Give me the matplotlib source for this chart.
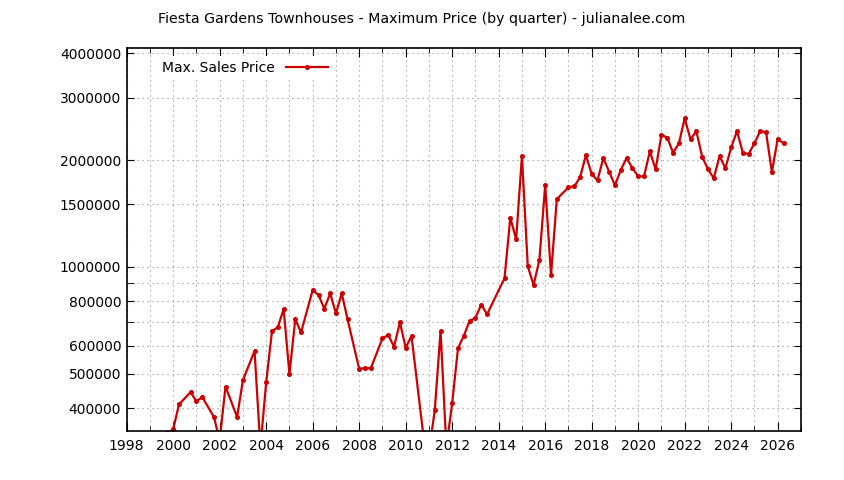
import matplotlib
matplotlib.use('Agg')
import matplotlib.pyplot as plt
from matplotlib.ticker import FixedLocator, NullFormatter, FuncFormatter

# quarter (decimal year) and max sale price
quarters = [1999.75, 2000.0, 2000.25, 2000.75, 2001.0, 2001.25, 2001.75,
            2002.0, 2002.25, 2002.75, 2003.0, 2003.5, 2003.75,
            2004.0, 2004.25, 2004.5, 2004.75, 2005.0, 2005.25, 2005.5,
            2006.0, 2006.25, 2006.5, 2006.75, 2007.0, 2007.25, 2007.5,
            2008.0, 2008.25, 2008.5, 2009.0, 2009.25, 2009.5, 2009.75,
            2010.0, 2010.25, 2010.75, 2011.0, 2011.25, 2011.5, 2011.75,
            2012.0, 2012.25, 2012.5, 2012.75, 2013.0, 2013.25, 2013.5,
            2014.25, 2014.5, 2014.75, 2015.0, 2015.25, 2015.5, 2015.75,
            2016.0, 2016.25, 2016.5, 2017.0, 2017.25, 2017.5, 2017.75,
            2018.0, 2018.25, 2018.5, 2018.75, 2019.0, 2019.25, 2019.5, 2019.75,
            2020.0, 2020.25, 2020.5, 2020.75, 2021.0, 2021.25, 2021.5, 2021.75,
            2022.0, 2022.25, 2022.5, 2022.75, 2023.0, 2023.25, 2023.5, 2023.75,
            2024.0, 2024.25, 2024.5, 2024.75, 2025.0, 2025.25, 2025.5, 2025.75,
            2026.0, 2026.25]
max_price = [340000, 349000, 410000, 444000, 418000, 430000, 378000,
             325000, 460000, 378000, 480000, 580000, 310000,
             473000, 660000, 676000, 761000, 500000, 712000, 654000,
             861000, 833000, 763000, 842000, 740000, 842000, 712000,
             516000, 519000, 518000, 629000, 643000, 596000, 698000,
             592000, 639000, 340000, 300000, 395000, 660000, 310000,
             414000, 590000, 640000, 704000, 719000, 783000, 735000,
             929000, 1376000, 1196000, 2053000, 1006000, 889000, 1046000,
             1701000, 949000, 1553000, 1676000, 1687000, 1788000, 2063000,
             1826000, 1754000, 2027000, 1854000, 1698000, 1875000, 2027000, 1899000,
             1800000, 1798000, 2117000, 1883000, 2357000, 2312000, 2098000, 2229000,
             2621000, 2288000, 2414000, 2044000, 1885000, 1777000, 2053000, 1896000,
             2173000, 2414000, 2098000, 2080000, 2233000, 2414000, 2394000, 1851000,
             2293000, 2229000]

ytick_vals = [400000, 500000, 600000, 800000, 1000000, 1500000, 2000000, 3000000, 4000000]
ytick_minor = [700000, 900000]
xtick_years = list(range(1998, 2027, 2))

plt.rcParams['font.family'] = 'DejaVu Sans'
plt.rcParams['font.size'] = 10

fig = plt.figure(figsize=(8.44, 4.80), dpi=100)
ax = fig.add_axes([0.1501, 0.1021, 0.7989, 0.7973])

ax.plot(quarters, max_price, color='#cc0000', lw=1.6, marker='o', ms=2.6,
        label='Max. Sales Price')

ax.set_yscale('log')
ax.set_ylim(345000, 4130000)
ax.set_xlim(1998, 2027)

ax.yaxis.set_major_locator(FixedLocator(ytick_vals))
ax.yaxis.set_major_formatter(FuncFormatter(lambda v, p: '%d' % v))
ax.yaxis.set_minor_locator(FixedLocator(ytick_minor))
ax.yaxis.set_minor_formatter(NullFormatter())
ax.xaxis.set_major_locator(FixedLocator(xtick_years))
ax.xaxis.set_minor_locator(FixedLocator(list(range(1998, 2028))))

ax.tick_params(which='both', direction='in', top=True, right=True, labelsize=10)
ax.tick_params(axis='x', which='major', length=6.5, pad=6)
ax.tick_params(axis='x', which='minor', length=3.5)
ax.tick_params(axis='y', which='both', length=5, pad=4)

ax.grid(True, which='both', color='#8c8c8c', lw=0.8, ls=(0, (1, 3.5)))
ax.set_axisbelow(True)
for s in ax.spines.values():
    s.set_linewidth(1.2)

leg = ax.legend(loc='upper left', bbox_to_anchor=(0.036, 0.997), markerfirst=False,
                handlelength=3.0, handletextpad=0.8, frameon=True, fancybox=False,
                borderpad=0.3, fontsize=10)
leg.get_frame().set_edgecolor('none')
leg.get_frame().set_facecolor('white')
leg.get_frame().set_alpha(1)

fig.text(0.5, 0.96, 'Fiesta Gardens Townhouses - Maximum Price (by quarter) - julianalee.com',
         ha='center', va='center', fontsize=10.2)

fig.savefig('out.png', dpi=100)
